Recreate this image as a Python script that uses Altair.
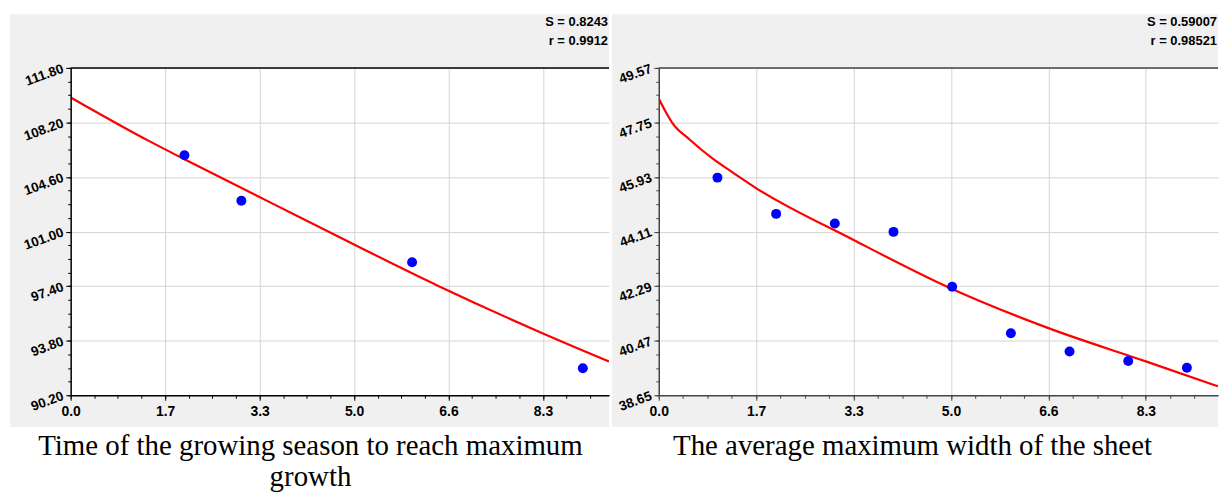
import altair as alt
import pandas as pd

# ---------------- data ----------------
x_tick_values = [0.0, 1.66, 3.32, 4.98, 6.64, 8.30]
x_minor_values = [round(i * 0.415, 3) for i in range(0, 23)]

# left panel
left_x = [2, 3, 6, 9]
left_y = [106.03, 103.03, 98.97, 91.98]
left_fit_x = [0.0, 1.39, 2.0, 4.0, 6.47, 8.30, 9.46]
left_fit_y = [109.85, 106.95, 105.77, 102.0, 97.40, 94.28, 92.43]
left_y_ticks = [90.20, 93.80, 97.40, 101.00, 104.60, 108.20, 111.80]
left_y_minor = [round(90.2 + i * 0.9, 2) for i in range(0, 25)]
left_stats = ["S = 0.8243", "r = 0.9912"]
left_caption = ["Time of the growing season to reach maximum", "growth"]

# right panel
right_x = [1, 2, 3, 4, 5, 6, 7, 8, 9]
right_y = [45.91, 44.70, 44.38, 44.10, 42.27, 40.72, 40.11, 39.79, 39.57]
right_fit_x = [0.0, 0.12, 0.24, 0.52, 0.92, 1.26, 1.65, 3.32, 4.97, 6.64, 8.30, 9.53]
right_fit_y = [48.55, 48.10, 47.71, 47.19, 46.54, 46.08, 45.57, 43.83, 42.22, 40.89,
               39.78, 38.95]
right_y_ticks = [38.65, 40.47, 42.29, 44.11, 45.93, 47.75, 49.57]
right_y_minor = [round(38.65 + i * 0.455, 3) for i in range(0, 25)]
right_stats = ["S = 0.59007", "r = 0.98521"]
right_caption = ["The average maximum width of the sheet"]

GREY = "#f0f0f0"
H = 329
TOP_BAND = 54
BOTTOM_BAND = 32
LABEL_FONT = "Liberation Sans"


def panel(px, py, fx, fy, xdom, ydom, yticks, yminor, width, left_band,
          stats, caption, axis_color, caption_x):
    sx = alt.Scale(domain=xdom, nice=False, zero=False)
    sy = alt.Scale(domain=ydom, nice=False, zero=False)
    pts = pd.DataFrame({"x": px, "y": py})
    fit = pd.DataFrame({"x": fx, "y": fy})
    one = pd.DataFrame({"k": [0]})

    grid_x = alt.Axis(values=x_tick_values, grid=True, labels=False, ticks=False,
                      domain=False, orient="bottom", title=None, zindex=0)
    grid_y = alt.Axis(values=yticks, grid=True, labels=False, ticks=False,
                      domain=False, orient="left", title=None, zindex=0)
    major_x = alt.Axis(values=x_tick_values, format=".1f", grid=False, orient="bottom",
                       title=None, tickSize=5, labelFlush=False, labelOverlap=False,
                       labelPadding=4, domainColor=axis_color, tickColor=axis_color,
                       domainWidth=1.5, zindex=1, labelFont=LABEL_FONT,
                       labelFontSize=14, labelFontWeight="bold", labelColor="black")
    major_y = alt.Axis(values=yticks, format=".2f", grid=False, orient="left", title=None,
                       tickSize=5, labelAngle=340, labelAlign="right",
                       labelBaseline="middle", labelPadding=3, labelOverlap=False,
                       labelFlush=False, domainColor=axis_color, tickColor=axis_color,
                       domainWidth=1.5, zindex=1, labelFont=LABEL_FONT,
                       labelFontSize=13.5, labelFontWeight="bold", labelColor="black")
    minor_x = alt.Axis(values=x_minor_values, labels=False, grid=False, domain=False,
                       orient="bottom", title=None, tickSize=3, tickColor=axis_color,
                       zindex=1)
    minor_y = alt.Axis(values=yminor, labels=False, grid=False, domain=False,
                       orient="left", title=None, tickSize=3, tickColor=axis_color,
                       zindex=1)

    band_top = alt.Chart(one).mark_rect(fill=GREY, strokeWidth=0).encode(
        x=alt.value(-left_band), x2=alt.value(width),
        y=alt.value(-TOP_BAND), y2=alt.value(0))
    band_bottom = alt.Chart(one).mark_rect(fill=GREY, strokeWidth=0).encode(
        x=alt.value(-left_band), x2=alt.value(width),
        y=alt.value(H), y2=alt.value(H + BOTTOM_BAND))
    band_left = alt.Chart(one).mark_rect(fill=GREY, strokeWidth=0).encode(
        x=alt.value(-left_band), x2=alt.value(0),
        y=alt.value(0), y2=alt.value(H))

    line = alt.Chart(fit).mark_line(color="#ff0000", strokeWidth=2.2,
                                    interpolate="monotone", clip=True).encode(
        x=alt.X("x:Q", scale=sx, axis=grid_x),
        y=alt.Y("y:Q", scale=sy, axis=grid_y))
    dots = alt.Chart(pts).mark_circle(size=100, color="#0000ff", opacity=1).encode(
        x=alt.X("x:Q", scale=sx, axis=major_x),
        y=alt.Y("y:Q", scale=sy, axis=major_y))
    minor = alt.Chart(pts).mark_circle(size=1, opacity=0).encode(
        x=alt.X("x:Q", scale=sx, axis=minor_x),
        y=alt.Y("y:Q", scale=sy, axis=minor_y))

    top_border = alt.Chart(one).mark_rule(color=axis_color, strokeWidth=1.5).encode(
        x=alt.value(0), x2=alt.value(width), y=alt.value(0))

    s_text = alt.Chart(one).mark_text(align="right", baseline="alphabetic",
                                      font=LABEL_FONT, fontWeight="bold",
                                      fontSize=13, color="black").encode(
        x=alt.value(width - 1), y=alt.value(-42), text=alt.value(stats[0]))
    r_text = alt.Chart(one).mark_text(align="right", baseline="alphabetic",
                                      font=LABEL_FONT, fontWeight="bold",
                                      fontSize=13, color="black").encode(
        x=alt.value(width - 1), y=alt.value(-23), text=alt.value(stats[1]))

    cap = alt.Chart(one).mark_text(align="center", baseline="alphabetic",
                                   font="Liberation Serif", fontSize=29,
                                   lineHeight=31, color="black").encode(
        x=alt.value(caption_x), y=alt.value(H + 60), text=alt.value(caption))

    return alt.layer(band_top, band_bottom, band_left, line, dots, minor, top_border,
                     s_text, r_text, cap).resolve_axis(
        x="independent", y="independent").properties(width=width, height=H)


left = panel(left_x, left_y, left_fit_x, left_fit_y, [0, 9.46], [90.2, 111.8],
             left_y_ticks, left_y_minor, 541, 61, left_stats, left_caption,
             "#000000", 241)
right = panel(right_x, right_y, right_fit_x, right_fit_y, [0, 9.53], [38.65, 49.57],
              right_y_ticks, right_y_minor, 562, 47, right_stats, right_caption,
              "#444444", 255)

chart = alt.hconcat(left, right, spacing=0).properties(
    padding={"left": 9, "top": 12, "right": 0, "bottom": 0},
    background="white",
).configure_view(stroke="transparent").configure_axis(
    gridColor="#d4d4d4", gridWidth=1, tickWidth=1,
)

chart.save("out.html", embed_options={"renderer": "svg", "actions": False})
